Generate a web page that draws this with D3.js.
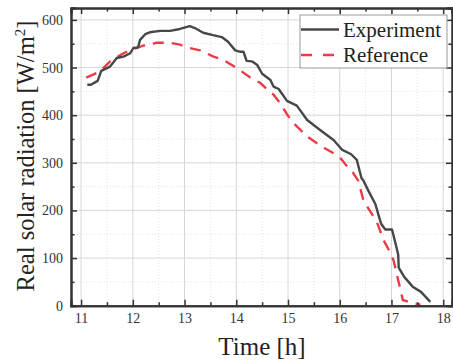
<!DOCTYPE html>
<html><head><meta charset="utf-8">
<script src="https://cdn.jsdelivr.net/npm/d3@7"></script>
<style>
html,body{margin:0;padding:0;background:#fff;}
svg{display:block;}
text{font-family:"Liberation Serif","Times New Roman",serif;}
</style></head>
<body>
<svg id="chart" width="453" height="361"></svg>
<script>
const expTime = [11.12, 11.19, 11.32, 11.39, 11.56, 11.69, 11.82, 11.95, 12.01, 12.1, 12.14, 12.24, 12.33, 12.53, 12.72, 12.91, 13.1, 13.2, 13.36, 13.55, 13.72, 13.84, 13.98, 14.08, 14.14, 14.2, 14.3, 14.4, 14.5, 14.66, 14.72, 14.82, 14.98, 15.17, 15.37, 15.62, 15.88, 16.05, 16.22, 16.33, 16.42, 16.46, 16.56, 16.69, 16.75, 16.8, 16.88, 17.01, 17.08, 17.13, 17.14, 17.25, 17.41, 17.57, 17.75];
const expValue = [464, 464, 472, 493, 502, 520, 523, 530, 541, 542, 558, 570, 574, 577, 577, 581, 587, 583, 573, 568, 564, 554, 536, 533, 533, 514, 513, 506, 487, 474, 460, 455, 430, 420, 390, 369, 348, 327, 318, 306, 268, 262, 240, 213, 190, 172, 160, 160, 130, 107, 80, 60, 40, 29, 8];
const refTime = [11.1, 11.37, 11.56, 11.82, 12.01, 12.2, 12.46, 12.72, 12.91, 13.1, 13.3, 13.56, 13.75, 14.01, 14.27, 14.46, 14.59, 14.72, 14.85, 14.98, 15.1, 15.24, 15.4, 15.56, 15.72, 15.88, 16.0, 16.14, 16.25, 16.36, 16.46, 16.59, 16.72, 16.85, 16.95, 17.04, 17.1, 17.17, 17.22, 17.4, 17.56];
const refValue = [479, 492, 513, 530, 539, 546, 552, 552, 548, 541, 536, 523, 516, 499, 479, 468, 455, 443, 425, 402, 384, 369, 353, 341, 330, 320, 312, 293, 280, 262, 220, 198, 175, 137, 117, 95, 68, 35, 12, 6, 2];
const xTicks = [11, 12, 13, 14, 15, 16, 17, 18];
const yTicks = [0, 100, 200, 300, 400, 500, 600];
const seriesNames = ["Experiment", "Reference"];

const svg = d3.select("#chart");
const L = 71, R = 452, T = 8, B = 305.7;
const x = d3.scaleLinear().domain([10.805, 18.17]).range([L, R]);
const y = d3.scaleLinear().domain([0, 625]).range([B, T]);

const minorX = d3.range(11.5, 18, 1);
const minorY = d3.range(50, 625, 100);

const g = svg.append("g");
g.selectAll(".mgx").data(minorX).join("line")
  .attr("x1", d => x(d)).attr("x2", d => x(d)).attr("y1", T).attr("y2", B)
  .attr("stroke", "#e2e2e2").attr("stroke-width", 1).attr("stroke-dasharray", "1,2");
g.selectAll(".mgy").data(minorY).join("line")
  .attr("x1", L).attr("x2", R).attr("y1", d => y(d)).attr("y2", d => y(d))
  .attr("stroke", "#e2e2e2").attr("stroke-width", 1).attr("stroke-dasharray", "1,2");
g.selectAll(".gx").data(xTicks).join("line")
  .attr("x1", d => x(d)).attr("x2", d => x(d)).attr("y1", T).attr("y2", B)
  .attr("stroke", "#d6d6d6").attr("stroke-width", 1);
g.selectAll(".gy").data(yTicks.filter(d => d > 0)).join("line")
  .attr("x1", L).attr("x2", R).attr("y1", d => y(d)).attr("y2", d => y(d))
  .attr("stroke", "#d6d6d6").attr("stroke-width", 1);

const line = d3.line().x(d => x(d[0])).y(d => y(d[1])).curve(d3.curveLinear);
svg.append("path").datum(refTime.map((t, i) => [t, refValue[i]]))
  .attr("d", line).attr("fill", "none").attr("stroke", "#ec3b4a")
  .attr("stroke-width", 2.4).attr("stroke-dasharray", "11,8");
svg.append("path").datum(expTime.map((t, i) => [t, expValue[i]]))
  .attr("d", line).attr("fill", "none").attr("stroke", "#474747")
  .attr("stroke-width", 2.4).attr("stroke-linejoin", "round");

const fmt = d3.format("d");
svg.append("g").attr("transform", `translate(0,${B})`)
  .call(d3.axisBottom(x).tickValues(xTicks).tickSize(-6).tickPadding(7).tickFormat(fmt));
svg.append("g").attr("transform", `translate(0,${T})`)
  .call(d3.axisTop(x).tickValues(xTicks).tickSize(-6).tickFormat(""));
svg.append("g").attr("transform", `translate(${L},0)`)
  .call(d3.axisLeft(y).tickValues(yTicks).tickSize(-6).tickPadding(8).tickFormat(fmt));
svg.append("g").attr("transform", `translate(${R},0)`)
  .call(d3.axisRight(y).tickValues(yTicks).tickSize(-6).tickFormat(""));
svg.append("g").attr("transform", `translate(0,${B})`)
  .call(d3.axisBottom(x).tickValues(minorX).tickSize(-3.5).tickFormat(""));
svg.append("g").attr("transform", `translate(0,${T})`)
  .call(d3.axisTop(x).tickValues(minorX).tickSize(-3.5).tickFormat(""));
svg.append("g").attr("transform", `translate(${L},0)`)
  .call(d3.axisLeft(y).tickValues(minorY).tickSize(-3.5).tickFormat(""));
svg.append("g").attr("transform", `translate(${R},0)`)
  .call(d3.axisRight(y).tickValues(minorY).tickSize(-3.5).tickFormat(""));

svg.selectAll(".domain").attr("stroke", "#333").attr("stroke-width", 2);
svg.selectAll(".tick line").attr("stroke", "#333").attr("stroke-width", 1.5);
svg.selectAll(".tick text").attr("fill", "#333")
  .style("font-family", '"Liberation Serif","Times New Roman",serif').style("font-size", "14px");

svg.append("text").attr("x", 262).attr("y", 355).attr("text-anchor", "middle")
  .style("font-size", "25px").attr("fill", "#222").text("Time [h]");
const yt = svg.append("text").attr("transform", "translate(34,156) rotate(-90)")
  .attr("text-anchor", "middle").style("font-size", "24.5px").attr("fill", "#222");
yt.append("tspan").text("Real solar radiation [W/m");
yt.append("tspan").attr("dy", -9).style("font-size", "15px").text("2");
yt.append("tspan").attr("dy", 9).text("]");

const lg = svg.append("g");
lg.append("rect").attr("x", 300).attr("y", 15).attr("width", 147).attr("height", 53)
  .attr("fill", "#fff").attr("stroke", "#9a9a9a").attr("stroke-width", 1);
const items = [
  {name: seriesNames[0], color: "#474747", dash: null, yy: 29.5},
  {name: seriesNames[1], color: "#ec3b4a", dash: "11,11", yy: 55}
];
items.forEach(it => {
  lg.append("line").attr("x1", 301).attr("x2", 339).attr("y1", it.yy).attr("y2", it.yy)
    .attr("stroke", it.color).attr("stroke-width", 2.4)
    .attr("stroke-dasharray", it.dash);
  lg.append("text").attr("x", 343).attr("y", it.yy + 7).style("font-size", "21px")
    .attr("fill", "#222").text(it.name);
});
</script>
</body></html>
